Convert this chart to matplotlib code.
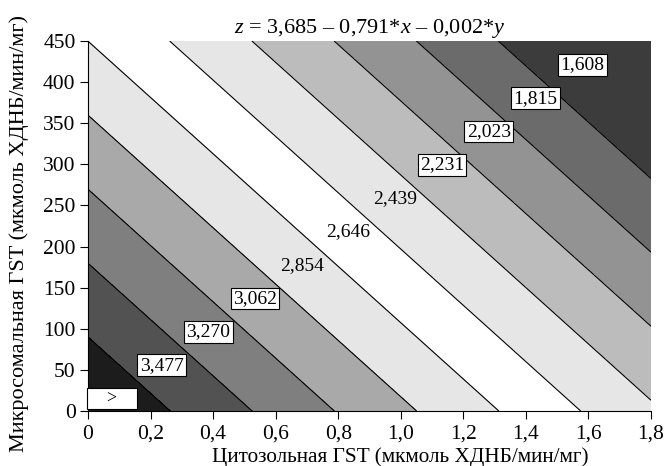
import matplotlib
matplotlib.use("Agg")
import matplotlib.pyplot as plt
import numpy as np

# Коэффициенты поверхности z = a - b*x - c*y
a_coef = 3.685
b_coef = 0.791
c_coef = 0.00231

x_range = [0.0, 1.8]
y_range = [0.0, 450.0]

levels = [1.608, 1.815, 2.023, 2.231, 2.439, 2.646, 2.854, 3.062, 3.270, 3.477]
level_labels = ["1,608", "1,815", "2,023", "2,231", "2,439", "2,646", "2,854",
                "3,062", "3,270", "3,477", ">"]
# цвета полос от минимального z к максимальному
band_colors = ["#3c3c3c", "#6b6b6b", "#939393", "#bcbcbc", "#e6e6e6", "#ffffff",
               "#e6e6e6", "#a9a9a9", "#7f7f7f", "#525252", "#1c1c1c"]
boxed = [True, True, True, True, False, False, False, True, True, True, True]

x_ticks = [0, 0.2, 0.4, 0.6, 0.8, 1.0, 1.2, 1.4, 1.6, 1.8]
x_tick_labels = ["0", "0,2", "0,4", "0,6", "0,8", "1,0", "1,2", "1,4", "1,6", "1,8"]
y_ticks = [0, 50, 100, 150, 200, 250, 300, 350, 400, 450]

plt.rcParams['font.family'] = ['Liberation Serif', 'DejaVu Serif']
plt.rcParams['mathtext.fontset'] = 'custom'
plt.rcParams['mathtext.rm'] = 'Liberation Serif'
plt.rcParams['mathtext.it'] = 'Liberation Serif:italic'

fig = plt.figure(figsize=(6.64, 4.66), dpi=100)
ax = fig.add_axes([88 / 664, 1 - 411 / 466, 563 / 664, 370 / 466])

xs = np.linspace(x_range[0], x_range[1], 400)
ys = np.linspace(y_range[0], y_range[1], 400)
X, Y = np.meshgrid(xs, ys)
Z = a_coef - b_coef * X - c_coef * Y

bounds = [Z.min() - 1] + levels + [Z.max() + 1]
ax.contourf(X, Y, Z, levels=bounds, colors=band_colors)
ax.contour(X, Y, Z, levels=levels, colors="black", linewidths=0.8)

# подписи полос вдоль диагонали (от нижнего левого к верхнему правому)
start = np.array([0.086, 15.0])
end = np.array([1.58, 421.0])
n = len(level_labels)
for i, (lab, box) in enumerate(zip(level_labels[::-1], boxed[::-1])):
    t = i / (n - 1)
    px, py = start + t * (end - start)
    bbox = dict(boxstyle="square,pad=0.12", fc="white", ec="black", lw=0.8) if box else None
    if lab == ">":
        ax.text(0.003, py, "    >    ", fontsize=13, ha="left", va="center", bbox=bbox)
    else:
        ax.text(px, py, lab, fontsize=14, ha="center", va="center", bbox=bbox)

ax.set_xlim(x_range)
ax.set_ylim(y_range)
ax.set_xticks(x_ticks)
ax.set_xticklabels(x_tick_labels)
ax.set_yticks(y_ticks)
ax.tick_params(labelsize=15.5, direction="out", length=6, width=0.8)
ax.tick_params(axis="x", pad=4)
ax.tick_params(axis="y", pad=3)
for s in ["top", "right"]:
    ax.spines[s].set_visible(False)

ax.set_xlabel("Цитозольная ГST (мкмоль ХДНБ/мин/мг)", fontsize=15.3, labelpad=0)
ax.xaxis.set_label_coords(0.554, -0.098)
ax.set_ylabel("Микросомальная ГST (мкмоль ХДНБ/мин/мг)", fontsize=16)
ax.yaxis.set_label_coords(-0.105, 0.481)
ax.set_title(r"$z$ = 3,685 – 0,791*$x$ – 0,002*$y$", fontsize=16, pad=6)

fig.savefig("out.png", dpi=100)
